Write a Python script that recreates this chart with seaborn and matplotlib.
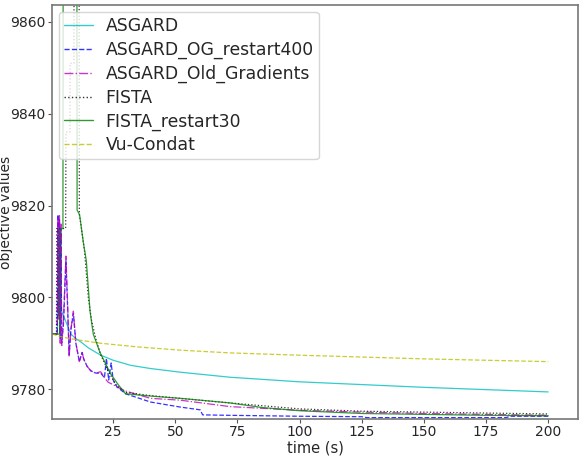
import numpy as np
import pandas as pd
import matplotlib
matplotlib.use('Agg')
import matplotlib.pyplot as plt
import seaborn as sns

# Data (time in s, objective value)
asgard_t = [0.5, 2.6, 2.9, 3.3, 3.7, 4.2, 5.0, 6.5, 8.0, 10, 12, 15, 20, 25, 32, 40, 52, 72, 100, 125, 150, 175, 200]
asgard_v = [9792, 9792, 9816, 9800, 9814, 9797, 9796, 9794, 9792, 9791, 9790.3, 9789, 9787.4, 9786.3, 9785.2,
            9784.5, 9783.7, 9782.6, 9781.6, 9781.0, 9780.4, 9779.9, 9779.4]

og400_t = [0.5, 2.5, 2.8, 3.1, 3.4, 3.7, 4.0, 4.3, 5.0, 6.0, 6.6, 7.3, 8.0, 9.0, 10.0, 11.4, 12.5, 13.2, 14.5,
           16, 18, 20, 21.5, 22.3, 23.2, 24.2, 25.0, 26.5, 30, 40, 52, 60, 61, 72, 100, 125, 127, 150, 183, 185, 200]
og400_v = [9792, 9792, 9818, 9796, 9817, 9791, 9815, 9790, 9794, 9808, 9799, 9787.5, 9793, 9796.5, 9790, 9786,
           9788, 9786.5, 9785, 9784, 9783.5, 9783.5, 9782.5, 9786.7, 9782, 9785.7, 9782, 9780.5, 9779, 9777.2,
           9776.1, 9775.5, 9774.4, 9774.3, 9774.1, 9774.0, 9773.8, 9773.8, 9773.8, 9774.1, 9774.1]

oldgrad_t = [0.5, 2.5, 2.8, 3.1, 3.4, 3.7, 4.0, 4.3, 5.0, 6.0, 6.6, 7.3, 8.0, 9.0, 10.0, 11.4, 12.5, 13.2,
             14.5, 16, 18, 20, 21.5, 23, 25, 26.5, 30, 40, 52, 72, 100, 125, 150, 175, 200]
oldgrad_v = [9792, 9792, 9817, 9795, 9818, 9790, 9816, 9789.5, 9795, 9809, 9800, 9787, 9793, 9797, 9790, 9786,
             9788, 9786.5, 9785, 9784, 9783.5, 9783.8, 9782.5, 9781.5, 9781, 9780.5, 9779.6, 9778, 9777.6,
             9776.2, 9775.4, 9775.0, 9774.7, 9774.5, 9774.3]

fista_t = [0.5, 2.2, 2.3, 5.9, 6.0, 7.6, 7.7, 9.2, 9.3, 11.3, 11.4, 12, 13.5, 15, 16.3, 18, 20, 23, 26, 30,
           40, 52, 72, 100, 125, 150, 175, 200]
fista_v = [9792, 9792, 9815, 9815, 9836, 9836, 9851, 9851, 9880, 9880, 9818, 9816, 9810, 9800, 9795, 9791,
           9787.5, 9784, 9781, 9779.3, 9778.6, 9778, 9777, 9775.7, 9775.2, 9775.0, 9774.8, 9774.6]

restart30_t = [0.5, 3.5, 3.6, 4.8, 4.9, 10.4, 10.5, 11.5, 13, 14.2, 15.7, 17, 19.7, 22, 23.8, 27, 30, 40, 52,
               60, 72, 85, 100, 125, 150, 175, 200]
restart30_v = [9792, 9792, 9815, 9815, 9880, 9880, 9819, 9818, 9812, 9808, 9797, 9792, 9788, 9785.5, 9783.5,
               9781, 9779, 9778.5, 9778, 9777.6, 9777, 9776, 9775.3, 9774.7, 9774.5, 9774.3, 9774.2]

vu_t = [0.5, 5, 10, 20, 35, 52, 72, 100, 125, 150, 175, 200]
vu_v = [9792, 9791.3, 9790.8, 9790, 9789.2, 9788.5, 9787.9, 9787.4, 9787.0, 9786.6, 9786.3, 9786.0]

series = [
    ('ASGARD', asgard_t, asgard_v, 'c', '-'),
    ('ASGARD_OG_restart400', og400_t, og400_v, 'b', '--'),
    ('ASGARD_Old_Gradients', oldgrad_t, oldgrad_v, 'm', '-.'),
    ('FISTA', fista_t, fista_v, 'k', ':'),
    ('FISTA_restart30', restart30_t, restart30_v, 'g', '-'),
    ('Vu-Condat', vu_t, vu_v, 'y', '--'),
]

sns.set_style('white')
plt.rcParams['font.family'] = ['DejaVu Sans']

fig, ax = plt.subplots(figsize=(5.84, 4.69), dpi=100)
fig.subplots_adjust(left=52 / 584, right=578 / 584, top=1 - 5 / 469, bottom=1 - 419 / 469)

for name, t, v, col, ls in series:
    sns.lineplot(x=t, y=v, ax=ax, color=col, linestyle=ls, linewidth=0.9,
                 label=name, estimator=None, sort=False, alpha=0.8)

ax.set_xlim(0.4, 212)
ax.set_ylim(9773.5, 9863.7)
ax.set_xticks([25, 50, 75, 100, 125, 150, 175, 200])
ax.set_yticks([9780, 9800, 9820, 9840, 9860])
ax.tick_params(labelsize=10, length=3, width=0.8, pad=1.5, color='#555555', direction='out')
ax.tick_params(axis='both', which='both', bottom=True, left=True)
for sp in ax.spines.values():
    sp.set_color('#777777')
    sp.set_linewidth(1.2)

ax.set_xlabel('time (s)', fontsize=10.5, labelpad=1)
ax.set_ylabel('objective values', fontsize=10)
ax.yaxis.set_label_coords(-0.074, 0.5)

leg = ax.legend(loc='upper left', fontsize=12.4, frameon=True, framealpha=0.8, borderpad=0.3,
                borderaxespad=0.4, labelspacing=0.33, handlelength=1.7, handletextpad=0.7)
for line in leg.get_lines():
    line.set_linewidth(1.0)

fig.savefig('out.png', dpi=100)
